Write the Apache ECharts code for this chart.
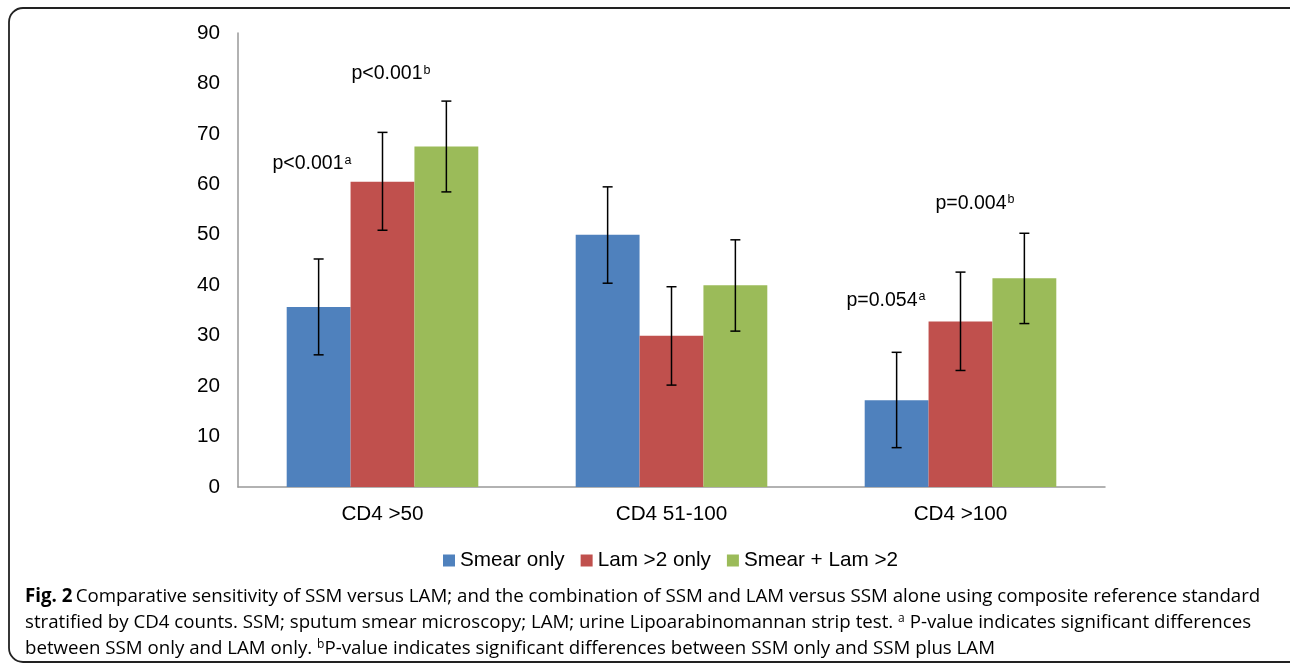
<!DOCTYPE html>
<html>
<head>
<meta charset="utf-8">
<script src="https://cdn.jsdelivr.net/npm/echarts@6/dist/echarts.min.js"></script>
<style>
html,body{margin:0;padding:0;background:#fff;}
#chart{width:1290px;height:666px;}
</style>
</head>
<body>
<div id="chart"></div>
<script>
const categories = ['CD4 >50', 'CD4 51-100', 'CD4 >100'];
const seriesNames = ['Smear only', 'Lam >2 only', 'Smear + Lam >2'];
const smearOnly = [35.7, 50.0, 17.2];
const lamOnly = [60.5, 30.0, 32.8];
const smearLam = [67.5, 40.0, 41.4];
const smearOnlyErr = [[26.2, 45.2], [40.4, 59.5], [7.8, 26.7]];
const lamOnlyErr = [[50.9, 70.3], [20.2, 39.7], [23.1, 42.6]];
const smearLamErr = [[58.5, 76.5], [30.9, 49.0], [32.4, 50.3]];
const yTicks = [0, 90, 10]; // min, max, interval
const annotations = [
  { text: 'p<0.001', sup: 'a', cat: 'CD4 >50', value: 64.5 },
  { text: 'p<0.001', sup: 'b', cat: 'CD4 >50', value: 82.3 },
  { text: 'p=0.054', sup: 'a', cat: 'CD4 >100', value: 37.4 },
  { text: 'p=0.004', sup: 'b', cat: 'CD4 >100', value: 56.6 }
];
const annotationOffsets = [[-110, 4], [-31, 4], [-114, 4], [-25, 4]];

const colors = ['#4F81BD', '#C0504D', '#9BBB59'];
const values = [smearOnly, lamOnly, smearLam];
const errs = [smearOnlyErr, lamOnlyErr, smearLamErr];
const BAR_PCT = 0.221;
const FONT = 'Liberation Sans, Arial, Helvetica, sans-serif';

const chart = echarts.init(document.getElementById('chart'));

const barSeries = values.map((vals, i) => ({
  name: seriesNames[i],
  type: 'bar',
  data: vals,
  barWidth: (BAR_PCT * 100) + '%',
  barGap: '0%',
  itemStyle: { color: colors[i] },
  z: 2
}));

const errSeries = errs.map((e, i) => ({
  type: 'custom',
  name: 'err' + i,
  silent: true,
  z: 5,
  data: e.map((d, j) => [j, d[0], d[1]]),
  renderItem: function (params, api) {
    const x = api.value(0);
    const lo = api.coord([x, api.value(1)]);
    const hi = api.coord([x, api.value(2)]);
    const band = api.size([1, 0])[0];
    const bw = band * BAR_PCT;
    const cx = lo[0] + (i - 1) * bw;
    const cap = 5;
    const style = { stroke: '#000', lineWidth: 1.5 };
    return {
      type: 'group',
      children: [
        { type: 'line', shape: { x1: cx, y1: lo[1], x2: cx, y2: hi[1] }, style },
        { type: 'line', shape: { x1: cx - cap, y1: lo[1], x2: cx + cap, y2: lo[1] }, style },
        { type: 'line', shape: { x1: cx - cap, y1: hi[1], x2: cx + cap, y2: hi[1] }, style }
      ]
    };
  }
}));

const annoSeries = {
  type: 'scatter',
  silent: true,
  symbolSize: 0,
  z: 6,
  itemStyle: { opacity: 1 },
  data: annotations.map((a, k) => ({
    value: [a.cat, a.value],
    label: {
      show: true,
      position: 'right',
      distance: 0,
      color: '#000',
      opacity: 1,
      offset: annotationOffsets[k],
      formatter: '{m|' + a.text + '}{s|' + a.sup + '}',
      rich: {
        m: { fontSize: 19.5, fontFamily: FONT, color: '#000', lineHeight: 24, verticalAlign: 'top' },
        s: { fontSize: 12.5, fontFamily: FONT, color: '#000', lineHeight: 15, verticalAlign: 'top', padding: [0, 0, 0, 1] }
      }
    }
  }))
};

const capFont = 'Open Sans, sans-serif';
const capRich = {
  b: { fontFamily: capFont, fontSize: 18.7, fontWeight: 'bold', color: '#231f20', lineHeight: 26, verticalAlign: 'top' },
  t: { fontFamily: capFont, fontSize: 18.7, color: '#231f20', lineHeight: 26, verticalAlign: 'top' },
  s: { fontFamily: capFont, fontSize: 12, color: '#231f20', lineHeight: 16, verticalAlign: 'top' }
};

chart.setOption({
  animation: false,
  color: colors,
  grid: { left: 238, right: 185, top: 33, bottom: 179, containLabel: false },
  legend: {
    data: seriesNames,
    top: 545,
    left: 438,
    itemWidth: 12,
    itemHeight: 12,
    itemGap: 16,
    icon: 'rect',
    textStyle: { fontSize: 20.7, fontFamily: FONT, color: '#000' }
  },
  xAxis: {
    type: 'category',
    data: categories,
    axisTick: { show: false },
    axisLine: { lineStyle: { color: '#999', width: 1.5 } },
    axisLabel: { fontSize: 20.7, fontFamily: FONT, color: '#000', margin: 17 }
  },
  yAxis: {
    type: 'value',
    min: yTicks[0],
    max: yTicks[1],
    interval: yTicks[2],
    axisTick: { show: false },
    splitLine: { show: false },
    axisLine: { show: true, lineStyle: { color: '#999', width: 1.5 } },
    axisLabel: { fontSize: 20.7, fontFamily: FONT, color: '#000', margin: 18 }
  },
  graphic: [
    {
      type: 'rect',
      shape: { x: 9, y: 8, width: 1320, height: 654, r: 14 },
      style: { fill: 'none', stroke: '#222', lineWidth: 1.8 },
      silent: true
    },
    {
      type: 'text',
      left: 25,
      top: 587,
      style: {
        text: '{b|Fig. 2} {t|Comparative sensitivity of SSM versus LAM; and the combination of SSM and LAM versus SSM alone using composite reference standard}\n' +
              '{t|stratified by CD4 counts. SSM; sputum smear microscopy; LAM; urine Lipoarabinomannan strip test. }{s|a}{t| P-value indicates significant differences}\n' +
              '{t|between SSM only and LAM only. }{s|b}{t|P-value indicates significant differences between SSM only and SSM plus LAM}',
        rich: capRich
      }
    }
  ],
  series: [...barSeries, ...errSeries, annoSeries]
});
</script>
</body>
</html>
